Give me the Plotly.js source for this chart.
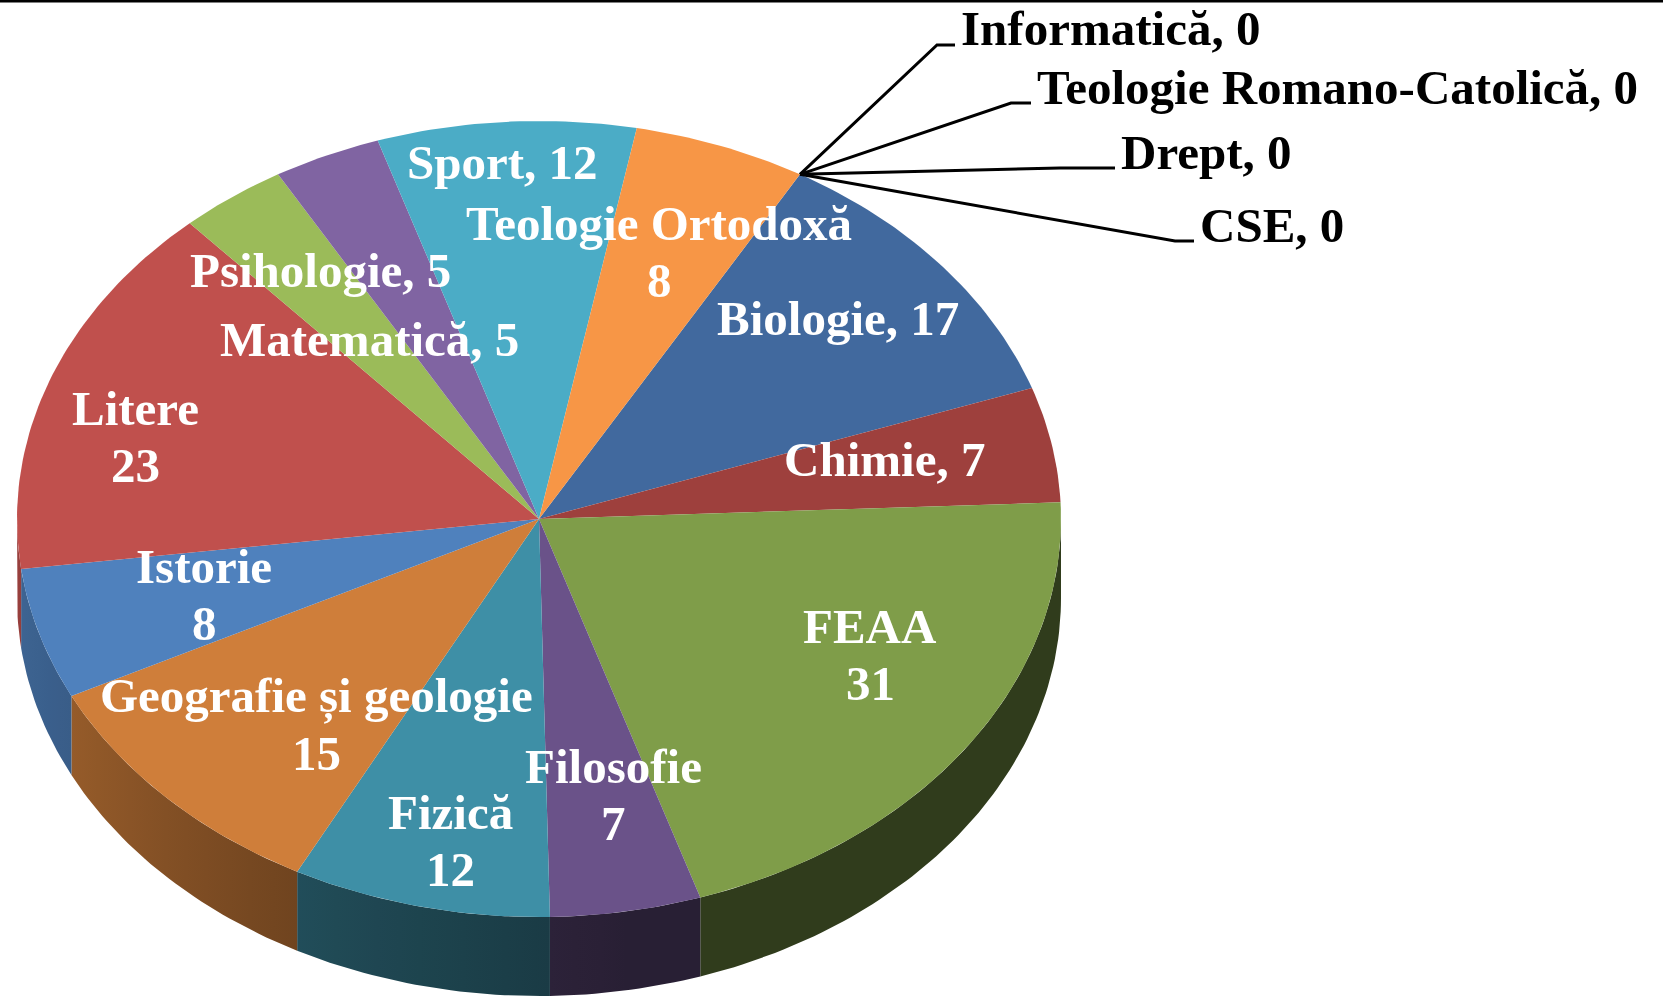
<!DOCTYPE html>
<html>
<head>
<meta charset="utf-8">
<script src="https://cdn.plot.ly/plotly-3.0.1.min.js"></script>
<style>
  html, body { margin: 0; padding: 0; background: #ffffff; }
  #chart { width: 1663px; height: 999px; }
</style>
</head>
<body>
<div id="chart"></div>
<script>
// ---------------- DATA ----------------
const categories = ['Informatică', 'Teologie Romano-Catolică', 'Drept', 'CSE',
  'Biologie', 'Chimie', 'FEAA', 'Filosofie', 'Fizică', 'Geografie și geologie',
  'Istorie', 'Litere', 'Matematică', 'Psihologie', 'Sport', 'Teologie Ortodoxă'];
const values = [0, 0, 0, 0, 17, 7, 31, 7, 12, 15, 8, 23, 5, 5, 12, 8];
const sliceColors = ['#4F81BD', '#C0504D', '#9BBB59', '#8064A2',
  '#41699E', '#9E403D', '#7F9D49', '#6A5289', '#3E8FA6', '#CF7E3A',
  '#4F81BD', '#C0504D', '#9BBB59', '#8064A2', '#4BACC6', '#F79646'];

// label layout: style ('inline' = "name, value", 'stacked' = name over value, 'outside')
const labelStyle = ['outside', 'outside', 'outside', 'outside',
  'inline', 'inline', 'stacked', 'stacked', 'stacked', 'stacked',
  'stacked', 'stacked', 'inline', 'inline', 'inline', 'stacked'];
const labelX = [959, 1035, 1119, 1198, 838, 884, 870, 613, 450, 316, 204, 135, 369, 320, 502, 659];
const labelY = [28, 87, 152, 225, 318, 459, 626, 766, 812, 696, 566, 408, 339, 270, 162, 223];
// leader line elbows for outside labels
const leaderElbowX = [937, 1011, 1060, 1175];
const leaderElbowY = [45, 103, 168, 241];
const leaderEndX = [955, 1031, 1115, 1194];

// ---------------- GEOMETRY ----------------
const W = 1663, H = 999;
const cx = 539, cy = 519, rx = 522, ry = 398, depth = 79;
const startAngle = 30; // degrees, clockwise from 12 o'clock

function pt(theta, dy) {
  const r = theta * Math.PI / 180;
  return [cx + rx * Math.sin(r), cy - ry * Math.cos(r) + (dy || 0)];
}
function hexToRgb(h) {
  const n = parseInt(h.slice(1), 16);
  return [(n >> 16) & 255, (n >> 8) & 255, n & 255];
}
function shade(hex, f) {
  const c = hexToRgb(hex).map(v => Math.round(v * f));
  return 'rgb(' + c.join(',') + ')';
}
const shadeStops = [[90, 0.38], [170, 0.38], [200, 0.5], [240, 0.71], [270, 0.8]];
function shadeFactor(t) {
  for (let i = 1; i < shadeStops.length; i++) {
    if (t <= shadeStops[i][0]) {
      const [t0, f0] = shadeStops[i - 1], [t1, f1] = shadeStops[i];
      return f0 + (f1 - f0) * (t - t0) / (t1 - t0);
    }
  }
  return shadeStops[shadeStops.length - 1][1];
}

const total = values.reduce((a, b) => a + b, 0);
const sideTraces = [], topTraces = [];
let acc = 0;
values.forEach((v, i) => {
  const a = startAngle + acc / total * 360;
  acc += v;
  const b = startAngle + acc / total * 360;
  if (v <= 0) return;
  // top face
  const xs = [cx], ys = [cy];
  const n = Math.max(4, Math.ceil(b - a));
  for (let k = 0; k <= n; k++) {
    const p = pt(a + (b - a) * k / n);
    xs.push(p[0]); ys.push(p[1]);
  }
  xs.push(cx); ys.push(cy);
  topTraces.push({
    type: 'scatter', mode: 'lines', x: xs, y: ys, fill: 'toself',
    fillcolor: sliceColors[i], line: { width: 0, color: sliceColors[i] },
    hoverinfo: 'skip', showlegend: false
  });
  // side face (visible part: 90..270 deg)
  const segs = [];
  const norm = t => ((t % 360) + 360) % 360;
  let na = norm(a), nb = na + (b - a);
  [[na, nb], [na - 360, nb - 360], [na + 360, nb + 360]].forEach(([s, e]) => {
    const s2 = Math.max(s, 90), e2 = Math.min(e, 270);
    if (e2 > s2) segs.push([s2, e2]);
  });
  segs.forEach(([s2, e2]) => {
    const m = Math.max(3, Math.ceil(e2 - s2));
    const sx = [], sy = [], bx = [], by = [];
    for (let k = 0; k <= m; k++) {
      const t = s2 + (e2 - s2) * k / m;
      const p = pt(t), q = pt(t, depth);
      sx.push(p[0]); sy.push(p[1]); bx.unshift(q[0]); by.unshift(q[1]);
    }
    const xAll = sx.concat(bx, [sx[0]]), yAll = sy.concat(by, [sy[0]]);
    const xmin = Math.min(...xAll), xmax = Math.max(...xAll);
    const stops = [];
    for (let k = 0; k <= 6; k++) {
      const t = s2 + (e2 - s2) * k / 6;
      const px = pt(t)[0];
      stops.push([xmax > xmin ? (px - xmin) / (xmax - xmin) : k / 6, shade(sliceColors[i], shadeFactor(t))]);
    }
    stops.sort((p1, p2) => p1[0] - p2[0]);
    stops[0][0] = 0; stops[stops.length - 1][0] = 1;
    sideTraces.push({
      type: 'scatter', mode: 'lines', x: xAll, y: yAll, fill: 'toself',
      fillcolor: shade(sliceColors[i], shadeFactor((s2 + e2) / 2)),
      fillgradient: { type: 'horizontal', colorscale: stops },
      line: { width: 0 }, hoverinfo: 'skip', showlegend: false
    });
  });
});

// leader lines for zero-value slices + labels
const leaderTraces = [];
const annotations = [];
const fontFamily = '"Liberation Serif", "Times New Roman", serif';
acc = 0;
values.forEach((v, i) => {
  const mid = startAngle + (acc + v / 2) / total * 360;
  acc += v;
  if (labelStyle[i] === 'outside') {
    const p = pt(mid);
    leaderTraces.push({
      type: 'scatter', mode: 'lines',
      x: [p[0], leaderElbowX[i], leaderEndX[i]],
      y: [p[1], leaderElbowY[i], leaderElbowY[i]],
      line: { color: '#000000', width: 3 }, hoverinfo: 'skip', showlegend: false
    });
    annotations.push({
      x: labelX[i], y: labelY[i], xref: 'x', yref: 'y', xanchor: 'left', yanchor: 'middle',
      text: '<b>' + categories[i] + ', ' + values[i] + '</b>', showarrow: false,
      font: { family: fontFamily, size: 49, color: '#000000' }
    });
  } else if (labelStyle[i] === 'inline') {
    annotations.push({
      x: labelX[i], y: labelY[i], xref: 'x', yref: 'y', xanchor: 'center', yanchor: 'middle',
      text: '<b>' + categories[i] + ', ' + values[i] + '</b>', showarrow: false,
      font: { family: fontFamily, size: 49, color: '#ffffff' }
    });
  } else {
    annotations.push({
      x: labelX[i], y: labelY[i], xref: 'x', yref: 'y', xanchor: 'center', yanchor: 'middle',
      text: '<b>' + categories[i] + '</b>', showarrow: false,
      font: { family: fontFamily, size: 49, color: '#ffffff' }
    });
    annotations.push({
      x: labelX[i], y: labelY[i] + 57, xref: 'x', yref: 'y', xanchor: 'center', yanchor: 'middle',
      text: '<b>' + values[i] + '</b>', showarrow: false,
      font: { family: fontFamily, size: 49, color: '#ffffff' }
    });
  }
});

const layout = {
  width: W, height: H,
  margin: { l: 0, r: 0, t: 0, b: 0, pad: 0 },
  paper_bgcolor: '#ffffff', plot_bgcolor: '#ffffff',
  showlegend: false, hovermode: false,
  xaxis: { range: [0, W], visible: false, fixedrange: true },
  yaxis: { range: [H, 0], visible: false, fixedrange: true },
  annotations: annotations,
  shapes: [{
    type: 'rect', xref: 'paper', yref: 'paper', x0: 0, x1: 1, y0: 1, y1: 0.9975,
    fillcolor: '#000000', line: { width: 0 }
  }]
};

Plotly.newPlot('chart', sideTraces.concat(topTraces, leaderTraces), layout,
  { displayModeBar: false, staticPlot: true });
</script>
</body>
</html>
